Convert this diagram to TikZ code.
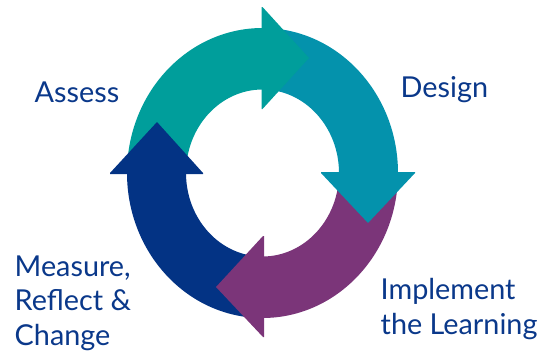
\documentclass[tikz,border=0pt]{standalone}
\usepackage{fontspec}
\setmainfont{Lato}
\definecolor{cteal}{RGB}{0,158,155}
\definecolor{cdesign}{RGB}{4,146,172}
\definecolor{cpurple}{RGB}{123,53,121}
\definecolor{cnavy}{RGB}{3,51,132}
\definecolor{ctext}{RGB}{10,56,138}
\begin{document}
\begin{tikzpicture}[x=1pt,y=1pt,
  lbl/.style={text=ctext,inner sep=0pt,anchor=base west,align=left,font=\fontsize{28.8}{34.5}\selectfont}]
\useasboundingbox (0,0) rectangle (549,360);
% ring bodies (centre 262.5,187; outer 135.5x145; inner 76.5x83.5)
\fill[cteal] (127,187) arc[start angle=180,end angle=90,x radius=135.5,y radius=145]
  -- (262.5,270.5) arc[start angle=90,end angle=180,x radius=76.5,y radius=83.5] -- cycle;
\fill[cdesign] (262.5,332) arc[start angle=90,end angle=0,x radius=135.5,y radius=145]
  -- (339,187) arc[start angle=0,end angle=90,x radius=76.5,y radius=83.5] -- cycle;
\fill[cpurple] (398,187) arc[start angle=0,end angle=-90,x radius=135.5,y radius=145]
  -- (262.5,103.5) arc[start angle=-90,end angle=0,x radius=76.5,y radius=83.5] -- cycle;
\fill[cnavy] (262.5,42) arc[start angle=-90,end angle=-180,x radius=135.5,y radius=145]
  -- (186,187) arc[start angle=-180,end angle=-90,x radius=76.5,y radius=83.5] -- cycle;
% arrow heads (each overlaps its own body by 1pt to hide the seam)
\fill[cteal] (261.5,353) -- (262.5,353) -- (309,302) -- (262.5,251) -- (261.5,251) -- cycle;
\fill[cdesign] (321,188) -- (321,187) -- (368,137) -- (415,187) -- (415,188) -- cycle;
\fill[cpurple] (264,124) -- (263,124) -- (216,73) -- (263,23) -- (264,23) -- cycle;
\fill[cnavy] (110,186) -- (110,187) -- (157,238) -- (203,187) -- (203,186) -- cycle;
% labels
\node[lbl] (assess) at (34.5,258) {Assess};
\node[lbl] (design) at (400.5,263) {Design};
\node[lbl] (measure) at (14.5,15) {Measure,\\Reflect \&\\Change};
\node[lbl] (implement) at (380.5,26) {Implement\\the Learning};
\end{tikzpicture}
\end{document}
